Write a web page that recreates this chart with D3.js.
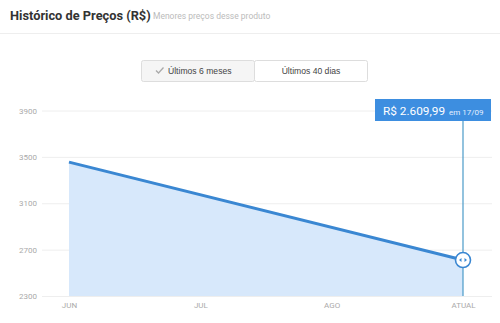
<!DOCTYPE html>
<html>
<head>
<meta charset="utf-8">
<script src="https://cdn.jsdelivr.net/npm/d3@7"></script>
<style>
  body { margin: 0; background: #fff; }
  svg { display: block; }
</style>
</head>
<body>
<svg id="canvas"></svg>
<script>
// labels of the x axis
const months = ['JUN', 'JUL', 'AGO', 'ATUAL'];
// y ticks
const yTicks = [2300, 2700, 3100, 3500, 3900];
// price history points
const priceMonths = ['JUN', 'ATUAL'];
const priceValues = [3455, 2609.99];
const lastLabel = 'R$ 2.609,99';
const lastDate = 'em 17/09';
const toggles = ['Últimos 6 meses', 'Últimos 40 dias'];

const w = 500;
const h = 323;

const svg = d3.select('#canvas').attr('width', w).attr('height', h);

// header
svg.append('text')
  .attr('x', 10).attr('y', 20)
  .attr('font-family', 'Roboto, sans-serif')
  .attr('font-weight', 'bold')
  .attr('font-size', 12.8)
  .attr('fill', '#333')
  .text('Histórico de Preços (R$)');
svg.append('text')
  .attr('x', 153).attr('y', 19)
  .attr('font-family', 'Roboto, sans-serif')
  .attr('font-size', 8.5)
  .attr('fill', '#bbb')
  .text('Menores preços desse produto');
svg.append('line')
  .attr('x1', 0).attr('x2', w).attr('y1', 33.5).attr('y2', 33.5)
  .attr('stroke', '#eee');

// toggle buttons
const btnX = [141, 254];
const btnW = [113, 113];
toggles.forEach((t, i) => {
  svg.append('rect')
    .attr('x', btnX[i] + 0.5).attr('y', 60.5)
    .attr('width', btnW[i]).attr('height', 21)
    .attr('rx', 2)
    .attr('fill', i === 0 ? '#f5f5f5' : '#fff')
    .attr('stroke', '#ddd');
  svg.append('text')
    .attr('x', i === 0 ? 168 : 311).attr('y', 74)
    .attr('text-anchor', i === 0 ? 'start' : 'middle')
    .attr('font-family', 'Liberation Sans, Arial, sans-serif')
    .attr('font-size', 8.6)
    .attr('fill', '#444')
    .text(t);
});
svg.append('path')
  .attr('d', 'M156,70.5 l2.5,2.5 l5,-5.5')
  .attr('fill', 'none')
  .attr('stroke', '#aaa')
  .attr('stroke-width', 1.3);

// scales
const x = d3.scalePoint().domain(months).range([69, 463]);
const y = d3.scaleLinear().domain([2300, 3900]).range([296, 110.5]);

// grid + y labels
const yAxis = d3.axisLeft(y).tickValues(yTicks).tickSize(-450).tickFormat(d3.format('d')).tickPadding(5);
const gy = svg.append('g').attr('transform', 'translate(42,0)').call(yAxis);
gy.select('.domain').remove();
gy.selectAll('.tick line').attr('stroke', '#eee');
gy.selectAll('.tick text')
  .attr('fill', '#aaa')
  .attr('font-family', 'Roboto, sans-serif')
  .attr('font-size', 8);

// area + line
const pts = priceMonths.map((m, i) => ({ m: m, v: priceValues[i] }));
svg.append('path')
  .datum(pts)
  .attr('d', d3.area().x((d) => x(d.m)).y0(y(2300)).y1((d) => y(d.v)))
  .attr('fill', '#d7e8fb');
svg.append('path')
  .datum(pts)
  .attr('d', d3.line().x((d) => x(d.m)).y((d) => y(d.v)))
  .attr('fill', 'none')
  .attr('stroke', '#3a87d2')
  .attr('stroke-width', 3);

// x axis
const xAxis = d3.axisBottom(x).tickSize(0).tickPadding(6);
const gx = svg.append('g').attr('transform', 'translate(0,' + y(2300) + ')').call(xAxis);
gx.select('.domain').remove();
gx.selectAll('.tick text')
  .attr('fill', '#aaa')
  .attr('font-family', 'Roboto, sans-serif')
  .attr('font-size', 8);

// marker of last value
const last = pts[pts.length - 1];
const lx = x(last.m);
const ly = y(last.v);
svg.append('line')
  .attr('x1', lx).attr('x2', lx).attr('y1', 120).attr('y2', y(2300))
  .attr('stroke', '#4a9ac8').attr('stroke-width', 1.2);
svg.append('circle')
  .attr('cx', lx).attr('cy', ly).attr('r', 7.5)
  .attr('fill', '#fff').attr('stroke', '#3a87d2').attr('stroke-width', 1.6);
svg.append('path')
  .attr('d', `M${lx - 4},${ly} l2.5,-2 v4 z M${lx + 4},${ly} l-2.5,-2 v4 z`)
  .attr('fill', '#3a87d2');

// tooltip
svg.append('rect')
  .attr('x', 375).attr('y', 99).attr('width', 116).attr('height', 22)
  .attr('fill', '#3d8ee0');
const tt = svg.append('text')
  .attr('x', 383).attr('y', 114.5)
  .attr('font-family', 'Roboto, sans-serif')
  .attr('fill', '#fff');
tt.append('tspan').attr('font-size', 11.8).text(lastLabel);
tt.append('tspan').attr('font-size', 8).attr('dx', 4).attr('fill', '#e3efff').text(lastDate);
</script>
</body>
</html>
